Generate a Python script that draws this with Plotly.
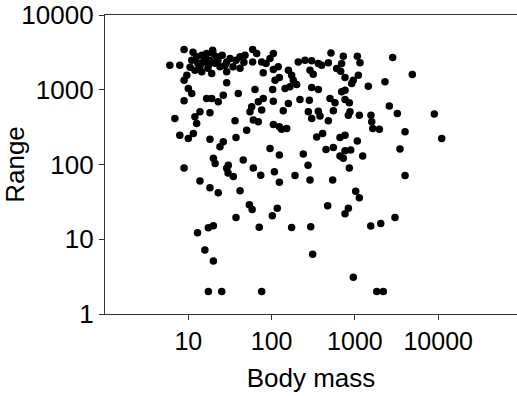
import plotly.graph_objects as go

# Body mass (x) and Range (y) values
body_mass = [
    8.9, 19.6, 6.0, 7.9, 11, 12.6, 14.5, 16.6, 19.8, 21.9,
    13, 15, 18.2, 21, 12, 14.5, 17.2, 24, 28.9, 31.7,
    34.4, 41.8, 41.8, 28.9, 19.1, 9.6, 8.9, 28.9, 10, 11,
    39.8, 8.9, 16.6, 19.1, 22.9, 26.3, 13.8, 18.2, 12, 6.9,
    12.6, 36.4, 7.9, 10, 11.5, 18.2, 26.3, 24, 37.4, 20,
    21, 30.2, 45.7, 8.9,
    11.4, 15.8, 22.7, 25.5, 13.8, 37.4, 10.5, 46.5, 17.7, 27.6,
    28.9, 30, 34.7, 13.8, 18.2, 22.9, 41.8, 37.4, 17.4, 20,
    12.9, 15.8, 20, 17.4, 25.2,
    60.3, 74, 108, 124, 191, 289, 274, 54, 58.5, 117,
    102, 71, 174, 295, 311, 76, 471,
    857, 541, 4000, 1023, 1130, 834, 761, 1549, 2042, 3029,
    957, 1828, 2193,
    59.3, 66.2, 48, 105, 95.7, 76, 85.7, 59.3, 79.4, 105,
    120, 110, 124, 209, 252, 303, 364, 289, 316, 159,
    174, 182, 200, 166, 145, 63.2, 103, 303, 364, 79.4,
    69.2, 57.7, 105, 159, 219, 284, 55, 76, 138, 276,
    303, 364, 381, 60.3, 69.2, 105, 124, 152, 132, 50.2,
    348, 410, 95.7, 124, 240, 450,
    516, 726, 1069, 1151, 480, 399, 693, 604, 675, 2843,
    1100, 957, 761, 915, 1449, 2297, 761, 693, 502, 577,
    761, 857, 551, 873, 834, 1130, 2588, 3228, 1560, 1592,
    1637, 1965, 480, 662, 761, 1069, 4000, 551, 761, 890,
    662, 726, 1241, 3477,
    4890, 8977, 11020,
]

range_km = [
    3459, 3383, 2134, 2134, 2487, 2754, 2903, 3056, 3090, 2754,
    2267, 2339, 2487, 2267, 1828, 1735, 1944, 2024, 2359, 2620,
    2024, 2754, 1944, 1735, 1651, 1568, 1344, 1237, 1041, 893,
    893, 711, 765, 765, 689, 847, 507, 491, 434, 413,
    354, 384, 247, 223, 260, 217, 201, 173, 230, 121,
    103, 98, 115, 90,
    3184, 2650, 2487, 2903, 2069, 2487, 2000, 2339, 2200, 2134,
    89, 77, 69, 60, 49, 42, 44.5, 19.6, 14.3, 15.1,
    12.2, 7.2, 5.1, 2, 2,
    90, 72, 80, 58, 71, 62, 98, 29, 25, 25.9,
    20.6, 14.5, 14.4, 14.7, 6.3, 2, 28,
    90, 62, 71, 44, 36, 25.9, 22, 15, 16.3, 19.6,
    3.1, 2, 2,
    3459, 3056, 2903, 3056, 2620, 2359, 2247, 2359, 1682, 1868,
    2024, 1344, 1460, 2359, 2487, 2434, 2247, 1828, 1617, 1828,
    1568, 1344, 1177, 1093, 1041, 1009, 1009, 1073, 1009, 765,
    689, 591, 704, 656, 742, 726, 507, 534, 523, 507,
    413, 517, 444, 393, 372, 344, 319, 304, 297, 288,
    234, 260, 164, 134, 138, 159,
    3112, 2812, 2812, 2289, 2289, 2134, 2247, 1926, 1773, 2704,
    1568, 1344, 1460, 1214, 1117, 1275, 988, 938, 765, 668,
    742, 668, 523, 507, 457, 457, 604, 482, 457, 372,
    304, 297, 384, 230, 247, 206, 274, 169, 153, 156,
    130, 121, 130, 161,
    1602, 472, 223,
]

x_ticks = [10, 100, 1000, 10000]
x_ticklabels = ["10", "100", "1000", "10000"]
y_ticks = [1, 10, 100, 1000, 10000]
y_ticklabels = ["1", "10", "100", "1000", "10000"]

font_family = "Liberation Sans, Arial, Helvetica, sans-serif"

fig = go.Figure(
    go.Scatter(
        x=body_mass,
        y=range_km,
        mode="markers",
        marker=dict(color="black", size=7.5, line=dict(width=0)),
        cliponaxis=False,
    )
)

fig.update_layout(
    width=517,
    height=396,
    margin=dict(l=105, r=0, t=15, b=82),
    paper_bgcolor="white",
    plot_bgcolor="white",
    showlegend=False,
    font=dict(family=font_family, size=26, color="black"),
)

fig.update_xaxes(
    type="log",
    range=[0, 4.946],
    tickvals=x_ticks,
    ticktext=x_ticklabels,
    ticks="outside",
    ticklen=5,
    tickwidth=1,
    tickcolor="#333",
    showline=True,
    linecolor="#333",
    linewidth=1.3,
    mirror=True,
    showgrid=False,
    zeroline=False,
    tickfont=dict(size=25),
    title=dict(text="Body mass", font=dict(size=26), standoff=14),
    automargin=False,
)

fig.update_yaxes(
    type="log",
    range=[0, 4],
    tickvals=y_ticks,
    ticktext=y_ticklabels,
    ticks="outside",
    ticklen=5,
    tickwidth=1,
    tickcolor="#333",
    showline=True,
    linecolor="#333",
    linewidth=1.3,
    showgrid=False,
    zeroline=False,
    tickfont=dict(size=26),
    title=dict(text="Range", font=dict(size=26), standoff=6),
    automargin=False,
)

fig.write_html("out.html")
